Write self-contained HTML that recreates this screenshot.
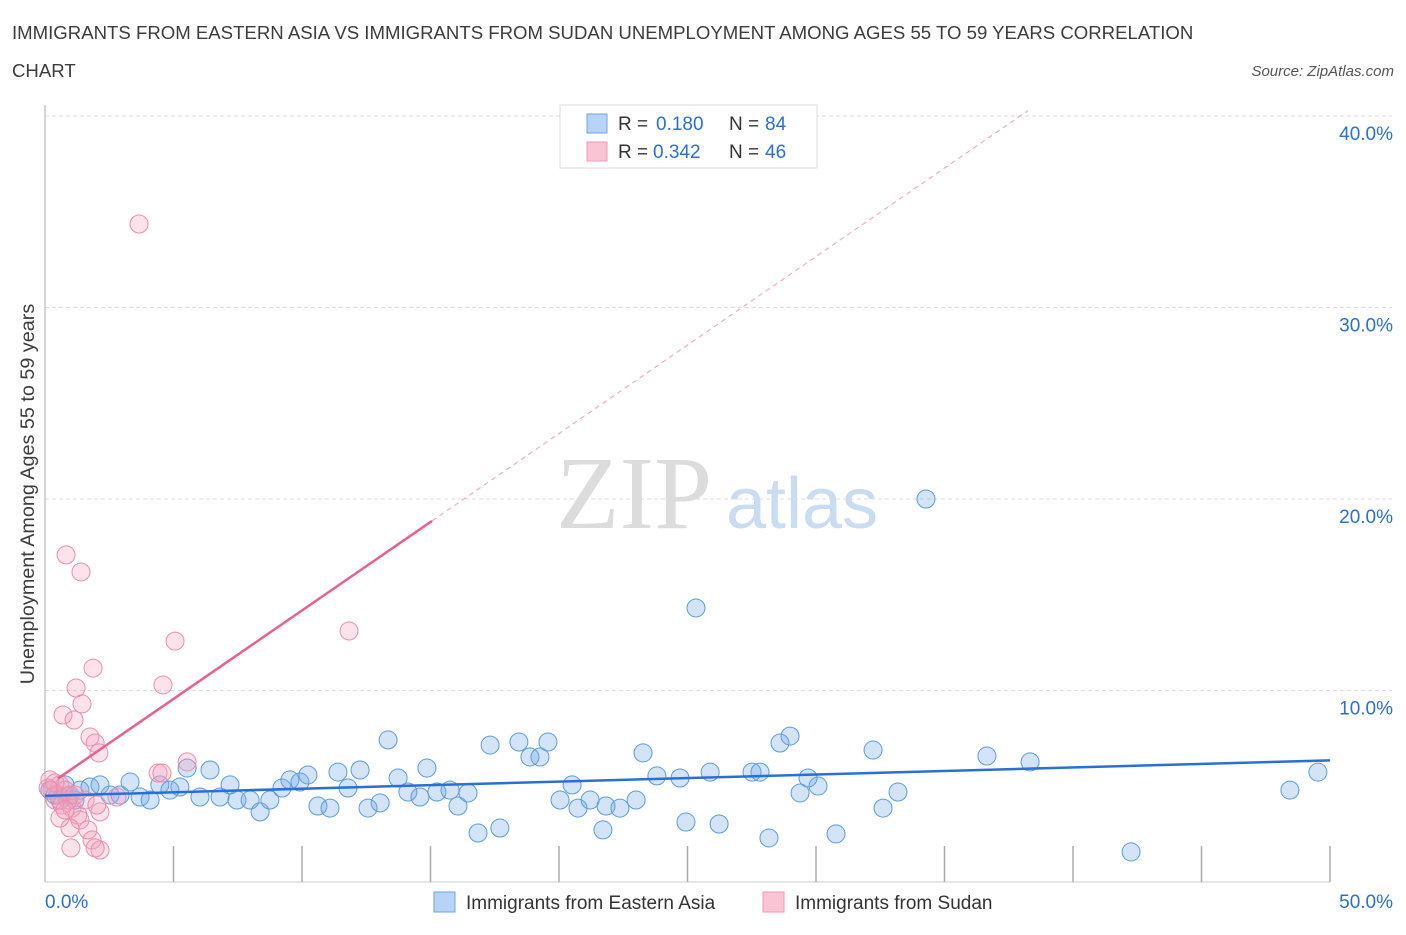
<!DOCTYPE html>
<html><head><meta charset="utf-8"><style>
body{margin:0;background:#fff;font-family:"Liberation Sans",sans-serif;}
</style></head><body>
<svg width="1406" height="930" xmlns="http://www.w3.org/2000/svg" id="svg">
<text x="12" y="39" font-size="18.6" fill="#3c3c3c">IMMIGRANTS FROM EASTERN ASIA VS IMMIGRANTS FROM SUDAN UNEMPLOYMENT AMONG AGES 55 TO 59 YEARS CORRELATION</text>
<text x="12" y="77" font-size="18.6" fill="#3c3c3c">CHART</text>
<text x="1394" y="76" font-size="15" font-style="italic" fill="#555" text-anchor="end">Source: ZipAtlas.com</text>
<g>
<text x="634" y="528" font-size="104" font-family="Liberation Serif,serif" fill="#dcdcdc" text-anchor="middle">ZIP</text>
<text x="802" y="528" font-size="72" fill="#c9dcf2" text-anchor="middle">atlas</text>
</g>
<g id="grid"></g>
<g id="axes"></g>
<g id="marks"></g>
<text transform="translate(34,494) rotate(-90)" font-size="19.8" fill="#3c3c3c" text-anchor="middle">Unemployment Among Ages 55 to 59 years</text>
<g>
<rect x="560" y="105" width="257" height="63" fill="#fff" stroke="#ddd"/>
<rect x="587" y="114" width="20" height="19" fill="#b7d3f5" stroke="#6fa3e3"/>
<rect x="587" y="142" width="20" height="19" fill="#f9c5d5" stroke="#ec9ab4"/>
<text x="618" y="130" font-size="19" fill="#333">R =</text>
<text x="656" y="130" font-size="19" fill="#2c6fcf">0.180</text>
<text x="729" y="130" font-size="19" fill="#333">N =</text>
<text x="765" y="130" font-size="19" fill="#2c6fcf">84</text>
<text x="618" y="158" font-size="19" fill="#333">R =</text>
<text x="653" y="158" font-size="19" fill="#2c6fcf">0.342</text>
<text x="729" y="158" font-size="19" fill="#333">N =</text>
<text x="765" y="158" font-size="19" fill="#2c6fcf">46</text>
</g>
<g>
<rect x="434" y="892" width="21" height="20" fill="#b7d3f5" stroke="#6fa3e3"/>
<text x="466" y="909" font-size="19" fill="#333">Immigrants from Eastern Asia</text>
<rect x="763" y="892" width="21" height="20" fill="#f9c5d5" stroke="#ec9ab4"/>
<text x="795" y="909" font-size="19" fill="#333">Immigrants from Sudan</text>
</g>
</svg>
<script>
const blueX=[0.19,0.39,0.58,0.78,0.97,1.17,1.36,1.75,2.14,2.53,2.92,3.31,3.70,4.09,4.47,4.86,5.25,5.53,6.03,6.42,6.81,7.20,7.47,7.98,8.37,8.75,9.22,9.53,9.92,10.23,10.62,11.09,11.40,11.79,12.26,12.57,13.04,13.35,13.74,14.12,14.59,14.86,15.25,15.76,16.07,16.46,16.85,17.32,17.70,18.44,18.87,19.26,19.57,20.04,20.51,20.74,21.21,21.71,21.83,22.37,23.00,23.27,23.81,24.71,24.94,25.33,25.88,26.23,27.51,27.82,28.17,28.60,28.99,29.38,29.69,30.08,30.78,32.22,32.61,33.19,34.28,36.65,38.33,42.26,48.44,49.53];
const blueY=[4.80,4.54,4.28,5.07,4.54,4.28,4.80,4.96,5.07,4.54,4.54,5.22,4.44,4.28,5.07,4.80,4.96,5.95,4.44,5.85,4.44,5.07,4.28,4.28,3.66,4.28,4.91,5.33,5.22,5.59,3.97,3.86,5.74,4.91,5.85,3.86,4.13,7.42,5.43,4.70,4.44,5.95,4.70,4.80,3.97,4.65,2.56,7.15,2.82,7.31,6.53,6.53,7.31,4.28,5.07,3.86,4.28,2.72,3.97,3.86,4.28,6.74,5.54,5.43,3.13,14.31,5.74,3.03,5.74,5.74,2.30,7.26,7.62,4.65,5.43,5.01,2.51,6.89,3.86,4.70,20.0,6.58,6.27,1.57,4.80,5.74];
const pinkX=[0.19,0.27,0.39,0.51,0.58,0.66,0.78,0.89,0.97,1.05,1.17,1.28,1.36,1.56,1.67,0.97,1.83,2.14,1.95,1.01,2.14,2.02,0.82,1.40,0.70,1.13,1.21,1.44,1.75,1.95,2.10,1.87,3.66,4.40,4.55,4.59,5.06,5.53,11.83,2.80,0.58,0.78,0.39,0.12];
const pinkY=[5.33,4.80,4.28,4.54,5.07,4.02,4.80,4.28,4.54,3.86,4.54,3.50,3.24,4.28,2.72,2.82,2.19,1.67,1.78,1.78,3.66,4.02,17.08,16.19,8.72,8.46,10.13,9.30,7.57,7.26,6.74,11.17,34.36,5.69,5.69,10.29,12.58,6.27,13.11,4.44,3.34,3.76,5.17,4.91];
const yTicks=[10,20,30,40];
const yTickLabels=["10.0%","20.0%","30.0%","40.0%"];
const xTicks=[0,5,10,15,20,25,30,35,40,45,50];
const blueTrend=[4.5,0.037];
const pinkTrend=[4.94,0.924];
const NS="http://www.w3.org/2000/svg";
const X=v=>45+v*25.7, Y=v=>882-v*19.15;
function mk(tag,attrs,parent){const e=document.createElementNS(NS,tag);for(const k in attrs)e.setAttribute(k,attrs[k]);parent.appendChild(e);return e;}
const grid=document.getElementById('grid'),axes=document.getElementById('axes'),marks=document.getElementById('marks');
yTicks.forEach((t,i)=>{
 const l=mk('line',{x1:45,x2:1392,y1:Y(t),y2:Y(t),stroke:'#ddd','stroke-dasharray':'4,3'},grid);
 
 
 const tx=mk('text',{x:1393,y:Y(t)+24,'font-size':19,fill:'#2c6fcf','text-anchor':'end'},axes);
 tx.textContent=yTickLabels[i];
 
 
});
const ya=mk('line',{x1:45,x2:45,y1:105,y2:882,stroke:'#aaa'},axes);


const xa=mk('line',{x1:45,x2:1330,y1:882,y2:882,stroke:'#ccc'},axes);


xTicks.slice(1).forEach(t=>{
 const l=mk('line',{x1:X(t),x2:X(t),y1:846,y2:882,stroke:'#aaa','stroke-width':1.5},axes);
 
 
});
const xl0=mk('text',{x:45,y:908,'font-size':19,fill:'#2c6fcf'},axes);xl0.textContent='0.0%';


const xl1=mk('text',{x:1393,y:908,'font-size':19,fill:'#2c6fcf','text-anchor':'end'},axes);xl1.textContent='50.0%';


blueX.forEach((x,i)=>{
 const c=mk('circle',{cx:X(x),cy:Y(blueY[i]),r:9,fill:'rgba(110,165,230,0.3)',stroke:'#5b9be0','stroke-width':1},marks);
 
 
});
pinkX.forEach((x,i)=>{
 const c=mk('circle',{cx:X(x),cy:Y(pinkY[i]),r:9,fill:'rgba(244,160,190,0.3)',stroke:'#ea8eab','stroke-width':1},marks);
 
 
});
const bt=mk('line',{x1:X(0),y1:Y(blueTrend[0]),x2:X(50),y2:Y(blueTrend[0]+blueTrend[1]*50),stroke:'#2a6fd6','stroke-width':2.5},marks);


const pt=mk('line',{x1:X(0.5),y1:Y(pinkTrend[0]+pinkTrend[1]*0.5),x2:X(15.06),y2:Y(pinkTrend[0]+pinkTrend[1]*15.06),stroke:'#e8628f','stroke-width':2.5},marks);


const xe=(40-pinkTrend[0])/pinkTrend[1]+0.3;
const pd=mk('line',{x1:X(15.06),y1:Y(pinkTrend[0]+pinkTrend[1]*15.06),x2:X(xe),y2:Y(pinkTrend[0]+pinkTrend[1]*xe),stroke:'#eea0b8','stroke-width':1,'stroke-dasharray':'5,4'},marks);


</script>
</body></html>
